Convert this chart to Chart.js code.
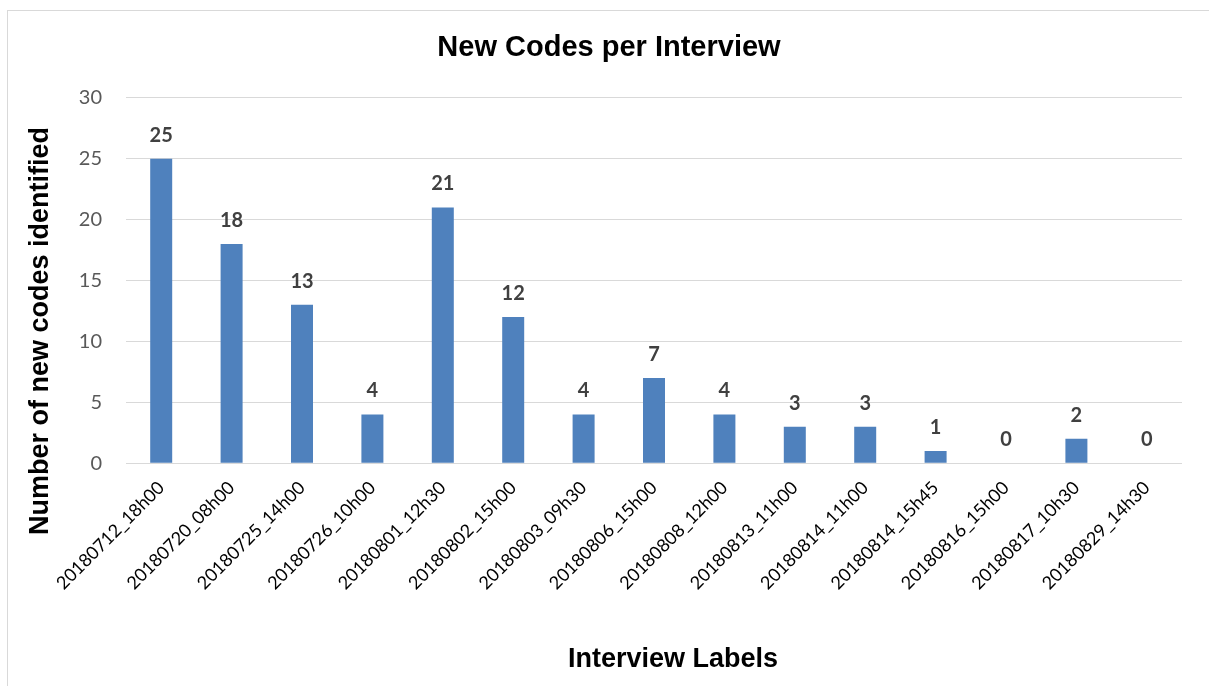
<!DOCTYPE html>
<html>
<head>
<meta charset="utf-8">
<script src="https://cdn.jsdelivr.net/npm/chart.js@4.4.0/dist/chart.umd.min.js"></script>
<style>
    html, body { margin: 0; padding: 0; background: #fff; overflow: hidden; }
    #frame { position: absolute; left: 7px; top: 10px; width: 1210px; height: 690px; border: 1px solid #d9d9d9; box-sizing: border-box; }
    #chart-container { position: absolute; left: 0; top: 0; width: 1209px; height: 686px; }
</style>
</head>
<body>
<div id="frame"></div>
<div id="chart-container"><canvas id="myChart" width="1209" height="686"></canvas></div>
<script>
const labels = [
    '20180712_18h00', '20180720_08h00', '20180725_14h00', '20180726_10h00', '20180801_12h30',
    '20180802_15h00', '20180803_09h30', '20180806_15h00', '20180808_12h00', '20180813_11h00',
    '20180814_11h00', '20180814_15h45', '20180816_15h00', '20180817_10h30', '20180829_14h30'
];
const newCodes = [25, 18, 13, 4, 21, 12, 4, 7, 4, 3, 3, 1, 0, 2, 0];
const yTicks = [0, 5, 10, 15, 20, 25, 30];
const yTitle = 'Number of new codes identified';
const xTitle = 'Interview Labels';

// draws the value above each bar, like Excel data labels,
// plus both axis titles (Excel centres them a bit differently than Chart.js)
const valueLabels = {
    id: 'valueLabels',
    afterDatasetsDraw(chart) {
        const ctx = chart.ctx;
        const meta = chart.getDatasetMeta(0);
        ctx.save();
        ctx.font = 'bold 20px Lato, "Open Sans", sans-serif';
        ctx.fillStyle = '#404040';
        ctx.textAlign = 'center';
        ctx.textBaseline = 'alphabetic';
        meta.data.forEach((bar, i) => {
            ctx.fillText(String(newCodes[i]), bar.x, bar.y - 17);
        });
        ctx.restore();
    },
    afterDraw(chart) {
        const ctx = chart.ctx;
        ctx.save();
        ctx.font = 'bold 27px "Liberation Sans", Arial, sans-serif';
        ctx.fillStyle = '#000';
        ctx.textAlign = 'center';
        ctx.textBaseline = 'middle';
        ctx.fillText(xTitle, 673, 660);
        ctx.translate(41, 331);
        ctx.rotate(-Math.PI / 2);
        ctx.fillText(yTitle, 0, 0);
        ctx.restore();
    }
};

const ctx = document.getElementById('myChart').getContext('2d');
new Chart(ctx, {
    type: 'bar',
    data: {
        labels: labels,
        datasets: [{
            label: 'New codes',
            data: newCodes,
            backgroundColor: '#4f81bd',
            borderColor: '#4f81bd',
            borderWidth: 0,
            barPercentage: 0.625,
            categoryPercentage: 0.5
        }]
    },
    options: {
        responsive: false,
        animation: false,
        devicePixelRatio: 1,
        layout: { padding: { left: 36, right: 27, top: 31, bottom: 78 } },
        plugins: {
            legend: { display: false },
            tooltip: { enabled: false },
            title: {
                display: true,
                text: 'New Codes per Interview',
                color: '#000',
                font: { family: '"Liberation Sans", Arial, sans-serif', size: 29, weight: 'bold' },
                padding: { top: 0, bottom: 32 }
            }
        },
        scales: {
            x: {
                grid: { display: false, drawTicks: false },
                border: { display: false },
                afterFit(scale) {
                    // let rotated labels run under the y axis like in Excel
                    scale.paddingLeft = 0;
                },
                ticks: {
                    color: '#000',
                    font: { family: 'Lato, "Open Sans", sans-serif', size: 18 },
                    minRotation: 45,
                    maxRotation: 45,
                    autoSkip: false,
                    padding: 14
                }
            },
            y: {
                min: 0,
                max: 30,
                afterBuildTicks(axis) {
                    axis.ticks = yTicks.map(v => ({ value: v }));
                },
                afterFit(scale) {
                    scale.width = 90;
                },
                grid: { color: '#d9d9d9', lineWidth: 1, drawTicks: false },
                border: { display: false },
                ticks: {
                    color: '#595959',
                    font: { family: 'Lato, "Open Sans", sans-serif', size: 20 },
                    padding: 24
                }
            }
        }
    },
    plugins: [valueLabels]
});
</script>
</body>
</html>
